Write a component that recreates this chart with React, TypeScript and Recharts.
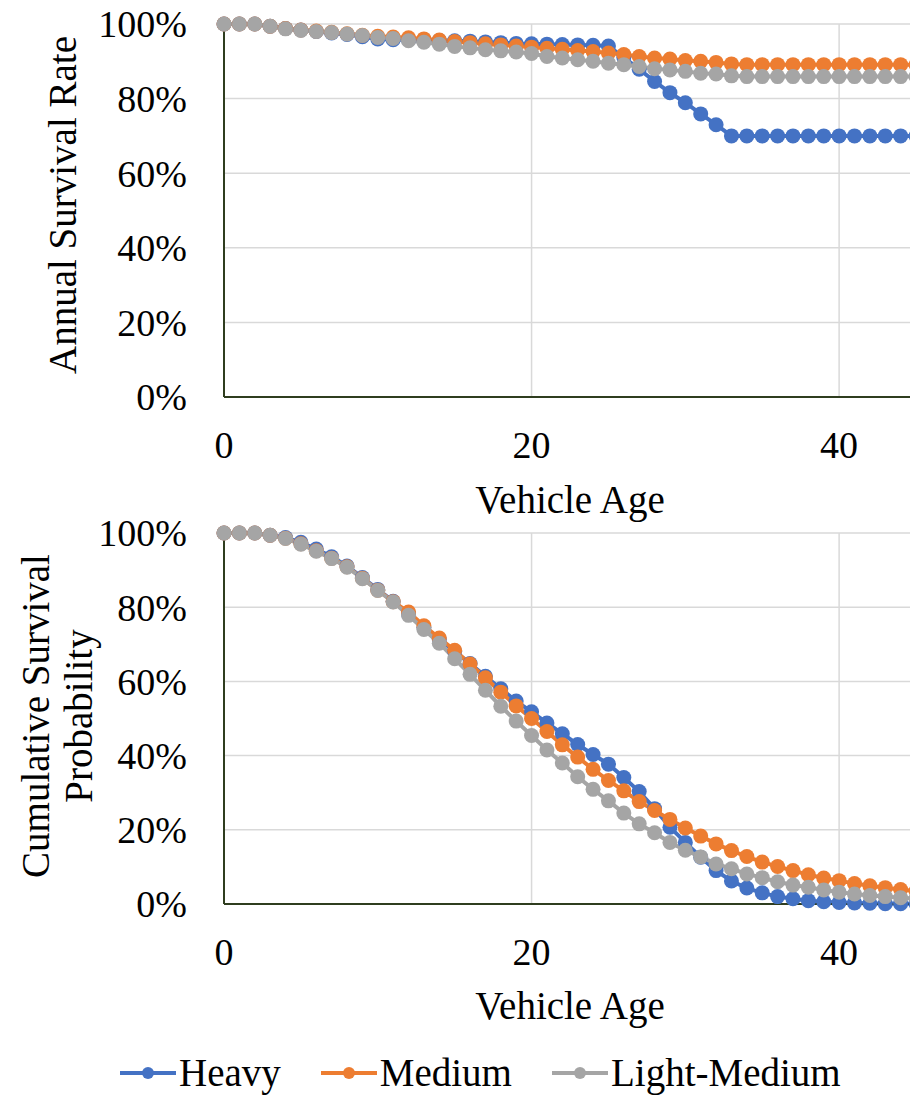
import React from "react";
import { LineChart, Line, XAxis, YAxis, CartesianGrid, Label } from "recharts";

// vehicle age, 0..45
const ages = [
  0, 1, 2, 3, 4, 5, 6, 7, 8, 9, 10, 11, 12, 13, 14, 15, 16, 17, 18, 19, 20, 21, 22,
  23, 24, 25, 26, 27, 28, 29, 30, 31, 32, 33, 34, 35, 36, 37, 38, 39, 40, 41, 42, 43, 44, 45,
];

// annual survival rate
const annualHeavy = [
  1, 1, 1, 0.994, 0.988, 0.984, 0.98, 0.976, 0.972, 0.966, 0.96, 0.958, 0.958, 0.957, 0.956,
  0.955, 0.954, 0.952, 0.95, 0.948, 0.947, 0.946, 0.945, 0.944, 0.943, 0.941, 0.91, 0.879,
  0.846, 0.816, 0.789, 0.759, 0.73, 0.7, 0.7, 0.7, 0.7, 0.7, 0.7, 0.7, 0.7, 0.7, 0.7, 0.7, 0.7, 0.7,
];
const annualMedium = [
  1, 1, 1, 0.994, 0.988, 0.984, 0.981, 0.978, 0.974, 0.97, 0.967, 0.965, 0.963, 0.96, 0.957,
  0.953, 0.95, 0.947, 0.944, 0.941, 0.938, 0.935, 0.932, 0.929, 0.926, 0.922, 0.918, 0.913,
  0.909, 0.906, 0.902, 0.9, 0.897, 0.893, 0.891, 0.891, 0.891, 0.891, 0.891, 0.891, 0.891,
  0.891, 0.891, 0.891, 0.891, 0.891,
];
const annualLight = [
  1, 1, 1, 0.994, 0.987, 0.983, 0.98, 0.977, 0.973, 0.969, 0.964, 0.961, 0.955, 0.951, 0.946,
  0.94, 0.936, 0.931, 0.928, 0.925, 0.921, 0.913, 0.909, 0.904, 0.9, 0.895, 0.891, 0.886,
  0.88, 0.877, 0.873, 0.868, 0.866, 0.861, 0.859, 0.859, 0.859, 0.859, 0.859, 0.859, 0.859,
  0.859, 0.859, 0.859, 0.859, 0.859,
];

// cumulative survival probability
const cumHeavy = [
  1, 1, 1, 0.994, 0.988, 0.975, 0.957, 0.936, 0.911, 0.88, 0.848, 0.816, 0.782, 0.746, 0.713,
  0.681, 0.648, 0.614, 0.58, 0.547, 0.518, 0.488, 0.459, 0.43, 0.403, 0.377, 0.341, 0.303,
  0.257, 0.207, 0.166, 0.126, 0.09, 0.062, 0.043, 0.03, 0.02, 0.014, 0.009, 0.006, 0.004,
  0.003, 0.002, 0.001, 0.001, 0.001,
];
const cumMedium = [
  1, 1, 1, 0.994, 0.986, 0.971, 0.952, 0.932, 0.909, 0.878, 0.846, 0.815, 0.787, 0.75, 0.717,
  0.684, 0.647, 0.61, 0.571, 0.534, 0.5, 0.465, 0.429, 0.396, 0.363, 0.333, 0.305, 0.276,
  0.252, 0.228, 0.205, 0.183, 0.162, 0.144, 0.128, 0.113, 0.101, 0.09, 0.079, 0.07, 0.063,
  0.055, 0.049, 0.044, 0.039, 0.035,
];
const cumLight = [
  1, 1, 1, 0.994, 0.985, 0.97, 0.951, 0.931, 0.908, 0.877, 0.845, 0.814, 0.778, 0.74, 0.703,
  0.661, 0.619, 0.576, 0.533, 0.493, 0.454, 0.415, 0.38, 0.343, 0.309, 0.278, 0.245, 0.216,
  0.192, 0.166, 0.145, 0.127, 0.108, 0.095, 0.081, 0.071, 0.06, 0.051, 0.045, 0.038, 0.032,
  0.027, 0.023, 0.02, 0.017, 0.015,
];

const seriesKeys = ["heavy", "medium", "light"];
const seriesNames = ["Heavy", "Medium", "Light-Medium"];
const seriesColors = ["#4472C4", "#ED7D31", "#A5A5A5"];

const xTicks = [0, 20, 40];
const yTicks = [0, 0.2, 0.4, 0.6, 0.8, 1];

const FONT = "'Liberation Serif', 'DejaVu Serif', serif";
const AXIS = "#2f3d1f";
const GRID = "#D9D9D9";

const annualData = ages.map((age, i) => ({
  age,
  heavy: annualHeavy[i],
  medium: annualMedium[i],
  light: annualLight[i],
}));

const cumData = ages.map((age, i) => ({
  age,
  heavy: cumHeavy[i],
  medium: cumMedium[i],
  light: cumLight[i],
}));

const pct = (v: number) => `${Math.round(v * 100)}%`;

// rotated y-axis title, one text per line
const yTitle = (lines: string[], xs: number[], cy: number) => () => (
  <g>
    {lines.map((t, i) => (
      <text
        key={t}
        x={xs[i]}
        y={cy}
        transform={`rotate(-90 ${xs[i]} ${cy})`}
        textAnchor="middle"
        dominantBaseline="central"
        fill="#000"
        fontSize={39}
        fontFamily={FONT}
      >
        {t}
      </text>
    ))}
  </g>
);

interface PanelProps {
  data: any[];
  top: number;
  marginTop: number;
  plotHeight: number;
  titleLines: string[];
  titleXs: number[];
  titleY: number;
  xLabelOffset: number;
}

function Panel({ data, top, marginTop, plotHeight, titleLines, titleXs, titleY, xLabelOffset }: PanelProps) {
  const axisH = 130;
  return (
    <div style={{ position: "absolute", left: 0, top }}>
      <LineChart
        width={926}
        height={marginTop + plotHeight + axisH}
        data={data}
        margin={{ top: marginTop, right: 10, left: 0, bottom: 0 }}
      >
        <CartesianGrid stroke={GRID} strokeWidth={1.5} />
        <XAxis
          dataKey="age"
          type="number"
          domain={[0, 45]}
          ticks={xTicks}
          interval={0}
          height={axisH}
          tickLine={false}
          tickSize={0}
          tickMargin={34}
          axisLine={{ stroke: AXIS, strokeWidth: 2 }}
          tick={{ fill: "#000", fontSize: 38, fontFamily: FONT }}
          label={{
            value: "Vehicle Age",
            position: "insideBottom",
            offset: xLabelOffset,
            fill: "#000",
            fontSize: 39,
            fontFamily: FONT,
          }}
        />
        <XAxis
          xAxisId="top"
          dataKey="age"
          type="number"
          orientation="top"
          domain={[0, 45]}
          height={0}
          tick={false}
          tickLine={false}
          axisLine={{ stroke: AXIS, strokeWidth: 2 }}
        />
        <YAxis
          type="number"
          domain={[0, 1]}
          ticks={yTicks}
          interval={0}
          width={224}
          tickLine={false}
          tickSize={0}
          tickMargin={37}
          tickFormatter={pct}
          axisLine={{ stroke: AXIS, strokeWidth: 2 }}
          tick={{ fill: "#000", fontSize: 38, fontFamily: FONT }}
          label={<Label content={yTitle(titleLines, titleXs, titleY)} />}
        />
        {seriesKeys.map((k, i) => (
          <Line
            key={k}
            type="linear"
            dataKey={k}
            name={seriesNames[i]}
            stroke={seriesColors[i]}
            strokeWidth={4}
            dot={{ r: 7.5, fill: seriesColors[i], stroke: seriesColors[i], strokeWidth: 0 }}
            activeDot={false}
            isAnimationActive={false}
          />
        ))}
      </LineChart>
    </div>
  );
}

function ChartLegend() {
  return (
    <div
      style={{
        position: "absolute",
        left: 120,
        top: 1054,
        height: 38,
        display: "flex",
        alignItems: "center",
        fontFamily: FONT,
        fontSize: 39,
        lineHeight: "36px",
        color: "#000",
        whiteSpace: "nowrap",
      }}
    >
      {seriesNames.map((name, i) => (
        <div key={name} style={{ display: "flex", alignItems: "center", marginRight: 40 }}>
          <svg width={56} height={20} style={{ marginRight: 3 }}>
            <line x1={0} y1={10} x2={56} y2={10} stroke={seriesColors[i]} strokeWidth={4} />
            <circle cx={28} cy={10} r={6} fill={seriesColors[i]} />
          </svg>
          <span style={{ lineHeight: "36px" }}>{name}</span>
        </div>
      ))}
    </div>
  );
}

export default function App() {
  return (
    <div
      style={{
        position: "fixed",
        left: 0,
        top: 0,
        width: 910,
        height: 1097,
        overflow: "hidden",
        background: "#fff",
        fontFamily: FONT,
      }}
    >
      <Panel
        data={annualData}
        top={0}
        marginTop={24}
        plotHeight={373}
        titleLines={["Annual Survival Rate"]}
        titleXs={[62]}
        titleY={205}
        xLabelOffset={14}
      />
      <Panel
        data={cumData}
        top={508}
        marginTop={25}
        plotHeight={371}
        titleLines={["Cumulative Survival", "Probability"]}
        titleXs={[35, 78]}
        titleY={208}
        xLabelOffset={15}
      />
      <ChartLegend />
    </div>
  );
}
